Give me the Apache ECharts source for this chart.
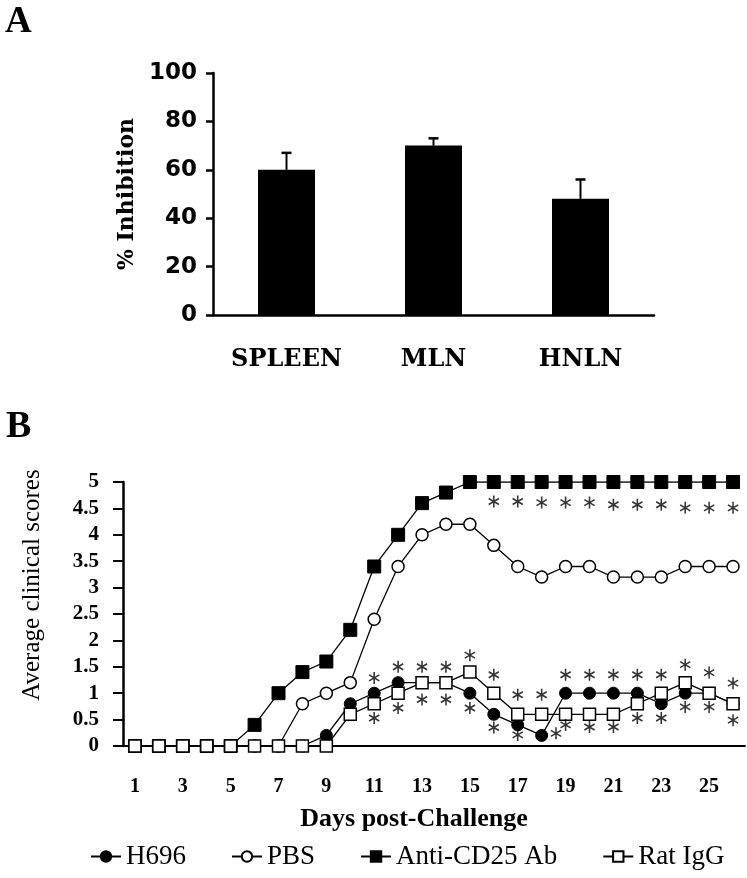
<!DOCTYPE html>
<html>
<head>
<meta charset="utf-8">
<script src="https://cdn.jsdelivr.net/npm/echarts@6/dist/echarts.min.js"></script>
<style>
html, body { margin: 0; padding: 0; background: #fff; }
#chart { width: 747px; height: 878px; }
</style>
</head>
<body>
<div id="chart"></div>
<script>
// panel A: % inhibition per tissue
const tissues = ['SPLEEN', 'MLN', 'HNLN'];
const inhibition = [60, 70, 48];
const inhibitionTop = [67, 73, 56]; // mean + error

// panel B: clinical scores per day
const days = ['1', '2', '3', '4', '5', '6', '7', '8', '9', '10', '11', '12', '13',
  '14', '15', '16', '17', '18', '19', '20', '21', '22', '23', '24', '25', '26'];
const h696 = [0, 0, 0, 0, 0, 0, 0, 0, 0.2, 0.8, 1.0, 1.2, 1.2, 1.2, 1.0, 0.6, 0.4, 0.2,
  1.0, 1.0, 1.0, 1.0, 0.8, 1.0, 1.0, 0.8];
const pbs = [0, 0, 0, 0, 0, 0, 0, 0.8, 1.0, 1.2, 2.4, 3.4, 4.0, 4.2, 4.2, 3.8, 3.4, 3.2,
  3.4, 3.4, 3.2, 3.2, 3.2, 3.4, 3.4, 3.4];
const antiCD25 = [0, 0, 0, 0, 0, 0.4, 1.0, 1.4, 1.6, 2.2, 3.4, 4.0, 4.6, 4.8, 5, 5, 5, 5,
  5, 5, 5, 5, 5, 5, 5, 5];
const ratIgG = [0, 0, 0, 0, 0, 0, 0, 0, 0, 0.6, 0.8, 1.0, 1.2, 1.2, 1.4, 1.0, 0.6, 0.6,
  0.6, 0.6, 0.6, 0.8, 1.0, 1.2, 1.0, 0.8];

// significance marks [day, score]
const starsTop = [[16, 4.63], [17, 4.63], [18, 4.61], [19, 4.61], [20, 4.61], [21, 4.57],
  [22, 4.57], [23, 4.57], [24, 4.51], [25, 4.51], [26, 4.51]];
const starsLow = [[11, 1.29], [11, 0.53], [12, 1.5], [12, 0.72], [13, 1.5], [13, 0.88],
  [14, 1.5], [14, 0.88], [15, 1.72], [15, 0.72], [16, 1.35], [16, 0.35], [17, 0.97], [17, 0.21],
  [18, 0.97], [18.6, 0.24], [19, 1.35], [19, 0.4], [20, 1.35], [20, 0.36], [21, 1.35], [21, 0.36],
  [22, 1.35], [22, 0.53], [23, 1.35], [23, 0.53], [24, 1.54], [24, 0.74], [25, 1.39], [25, 0.74],
  [26, 1.19], [26, 0.49]];

const serif = 'Liberation Serif';
const asterisk = 'path://M-1.3,-10L1.3,-10L1.3,10L-1.3,10Z' +
  'M-9.31,-3.87L-8.01,-6.13L9.31,3.87L8.01,6.13Z' +
  'M8.01,-6.13L9.31,-3.87L-8.01,6.13L-9.31,3.87Z';

function renderErr(params, api) {
  const base = api.coord([api.value(0), api.value(1)]);
  const top = api.coord([api.value(0), api.value(2)]);
  return {
    type: 'group',
    children: [
      { type: 'line', shape: { x1: base[0], y1: base[1], x2: top[0], y2: top[1] },
        style: { stroke: '#000', lineWidth: 2 } },
      { type: 'line', shape: { x1: top[0] - 5, y1: top[1], x2: top[0] + 5, y2: top[1] },
        style: { stroke: '#000', lineWidth: 2.5 } }
    ]
  };
}

function lineSeries(name, data, symbol, size, filled) {
  return {
    name: name,
    type: 'line',
    xAxisIndex: 1,
    yAxisIndex: 1,
    data: data,
    symbol: symbol,
    symbolSize: size,
    showAllSymbol: true,
    lineStyle: { color: '#000', width: 1.3 },
    itemStyle: filled
      ? { color: '#000', borderColor: '#000', borderWidth: 1 }
      : { color: '#fff', borderColor: '#000', borderWidth: 1.5 }
  };
}

const chart = echarts.init(document.getElementById('chart'));
chart.setOption({
  animation: false,
  backgroundColor: '#fff',
  graphic: [
    { type: 'text', x: 5, y: 22, style: { text: 'A', fontFamily: serif, fontWeight: 'bold',
      fontSize: 37, fill: '#000', textVerticalAlign: 'middle' } },
    { type: 'text', x: 6, y: 427, style: { text: 'B', fontFamily: serif, fontWeight: 'bold',
      fontSize: 38, fill: '#000', textVerticalAlign: 'middle' } }
  ],
  grid: [
    { left: 213, top: 73, width: 441, height: 242 },
    { left: 123, top: 482, width: 622, height: 264 }
  ],
  legend: {
    data: ['H696', 'PBS', 'Anti-CD25 Ab', 'Rat IgG'],
    left: 85,
    top: 838,
    itemWidth: 30,
    itemHeight: 13,
    itemGap: 45,
    textStyle: { fontFamily: serif, fontSize: 27, color: '#000' }
  },
  xAxis: [
    {
      gridIndex: 0,
      type: 'category',
      data: tissues,
      axisLine: { lineStyle: { color: '#000', width: 2.5 } },
      axisTick: { length: 7, lineStyle: { color: '#000', width: 2.5 } },
      axisLabel: { margin: 33, color: '#000', fontFamily: 'DejaVu Serif', fontWeight: 'bold',
        fontSize: 24 }
    },
    {
      gridIndex: 1,
      type: 'category',
      data: days,
      axisLine: { lineStyle: { color: '#000', width: 2 } },
      axisTick: { interval: 0, length: 7, lineStyle: { color: '#000', width: 1.5 } },
      axisLabel: { interval: 1, margin: 31, color: '#000', fontFamily: serif,
        fontWeight: 'bold', fontSize: 20 },
      name: 'Days post-Challenge',
      nameLocation: 'middle',
      nameGap: 60,
      nameTextStyle: { fontFamily: serif, fontWeight: 'bold', fontSize: 26, color: '#000',
        padding: [0, 40, 0, 0] }
    },
    { gridIndex: 1, type: 'value', min: 0.5, max: 26.5, show: false }
  ],
  yAxis: [
    {
      gridIndex: 0,
      type: 'value',
      min: 0,
      max: 100,
      interval: 20,
      splitLine: { show: false },
      axisLine: { show: true, lineStyle: { color: '#000', width: 2.5 } },
      axisTick: { show: true, length: 7, lineStyle: { color: '#000', width: 2.5 } },
      axisLabel: { margin: 16, color: '#000', fontFamily: 'DejaVu Sans', fontWeight: 'bold',
        fontSize: 23 },
      name: '% Inhibition',
      nameLocation: 'middle',
      nameGap: 74,
      nameTextStyle: { fontFamily: 'DejaVu Serif', fontWeight: 'bold', fontSize: 22, color: '#000' }
    },
    {
      gridIndex: 1,
      type: 'value',
      min: 0,
      max: 5,
      interval: 0.5,
      splitLine: { show: false },
      axisLine: { show: true, lineStyle: { color: '#000', width: 2.5 } },
      axisTick: { show: true, length: 10, lineStyle: { color: '#000', width: 2 } },
      axisLabel: { margin: 24, color: '#000', fontFamily: serif, fontWeight: 'bold', fontSize: 21 },
      name: 'Average clinical scores',
      nameLocation: 'middle',
      nameGap: 78,
      nameTextStyle: { fontFamily: serif, fontSize: 25, color: '#000', padding: [0, 0, 0, 58] }
    }
  ],
  series: [
    {
      type: 'bar',
      xAxisIndex: 0,
      yAxisIndex: 0,
      data: inhibition,
      barWidth: 57,
      itemStyle: { color: '#000' }
    },
    {
      type: 'custom',
      xAxisIndex: 0,
      yAxisIndex: 0,
      renderItem: renderErr,
      data: tissues.map((t, i) => [i, inhibition[i], inhibitionTop[i]]),
      z: 3
    },
    lineSeries('H696', h696, 'circle', 12, true),
    lineSeries('PBS', pbs, 'circle', 12, false),
    lineSeries('Anti-CD25 Ab', antiCD25, 'rect', 13, true),
    lineSeries('Rat IgG', ratIgG, 'rect', 12, false),
    {
      type: 'scatter',
      xAxisIndex: 2,
      yAxisIndex: 1,
      data: starsTop.concat(starsLow),
      symbol: asterisk,
      symbolSize: [11, 12],
      itemStyle: { color: '#000' },
      z: 5
    }
  ]
});
</script>
</body>
</html>
